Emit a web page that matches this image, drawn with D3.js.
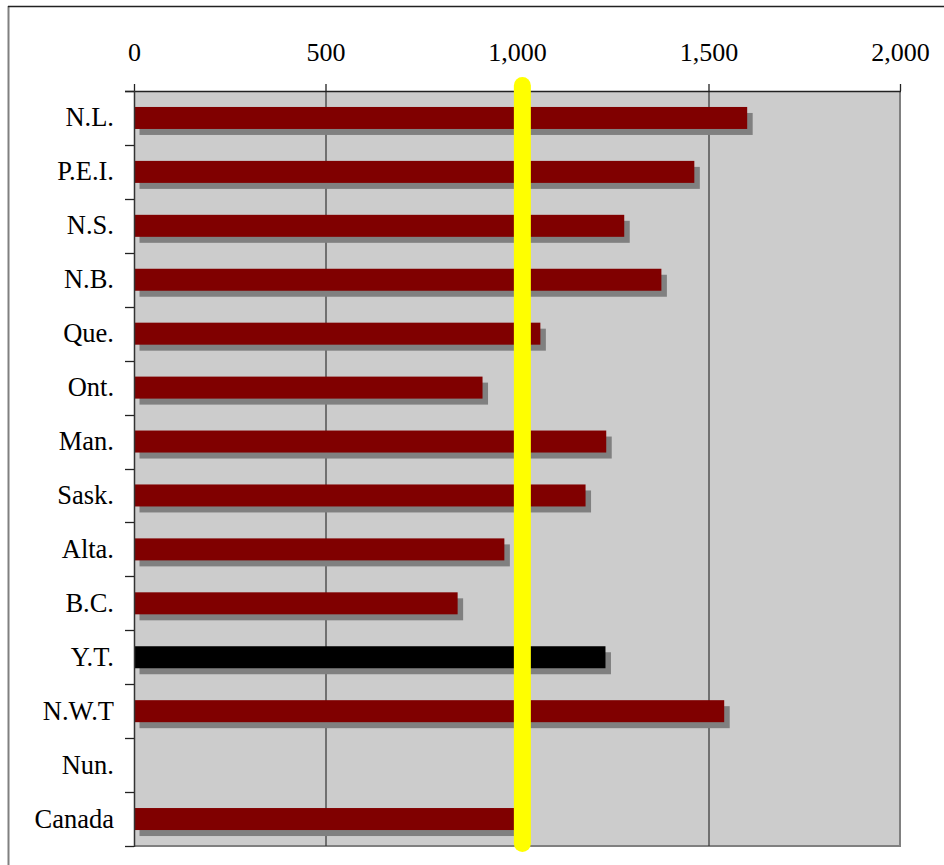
<!DOCTYPE html>
<html>
<head>
<meta charset="utf-8">
<script src="https://cdn.jsdelivr.net/npm/d3@7"></script>
<style>
  html, body { margin: 0; padding: 0; background: #ffffff; }
  svg { display: block; }
  text { font-family: "Liberation Serif", "Times New Roman", serif; fill: #000; }
</style>
</head>
<body>
<script>
// Jurisdictions, top to bottom
const categories = ["N.L.", "P.E.I.", "N.S.", "N.B.", "Que.", "Ont.", "Man.", "Sask.", "Alta.", "B.C.", "Y.T.", "N.W.T", "Nun.", "Canada"];
// Values per jurisdiction (Nun. has no value)
const values = [1601, 1463, 1280, 1377, 1061, 910, 1233, 1179, 967, 845, 1231, 1541, null, 1014];
// Highlighted jurisdiction drawn in black
const highlighted = ["Y.T."];
// Reference line value (national level)
const referenceValue = 1014;
// Axis ticks
const xTicks = [0, 500, 1000, 1500, 2000];

const W = 944, H = 865;
const plot = { left: 134, right: 900, top: 91, bottom: 846 };

const svg = d3.select("body").append("svg")
  .attr("width", W).attr("height", H);

// outer frame
svg.append("line").attr("x1", 8.5).attr("x2", 8.5).attr("y1", 6).attr("y2", H)
  .attr("stroke", "#808080").attr("stroke-width", 2);
svg.append("line").attr("x1", 8).attr("x2", W).attr("y1", 6.5).attr("y2", 6.5)
  .attr("stroke", "#222").attr("stroke-width", 1.3);

const x = d3.scaleLinear().domain([0, 2000]).range([plot.left, plot.right]);
const y = d3.scaleBand().domain(categories).range([plot.top, plot.bottom]).padding(0);
const barH = y.bandwidth() * 0.408;

// plot background
svg.append("rect")
  .attr("x", plot.left).attr("y", plot.top)
  .attr("width", plot.right - plot.left).attr("height", plot.bottom - plot.top)
  .attr("fill", "#cccccc");

// right and bottom plot edge
svg.append("line").attr("x1", plot.right).attr("x2", plot.right)
  .attr("y1", plot.top).attr("y2", plot.bottom + 1)
  .attr("stroke", "#808080").attr("stroke-width", 2);
svg.append("line").attr("x1", plot.left).attr("x2", plot.right + 1)
  .attr("y1", plot.bottom).attr("y2", plot.bottom)
  .attr("stroke", "#808080").attr("stroke-width", 2);

// vertical gridlines
svg.append("g").selectAll("line")
  .data(xTicks.filter(d => d > 0 && d < 2000))
  .join("line")
  .attr("x1", d => x(d) + 0.5).attr("x2", d => x(d) + 0.5)
  .attr("y1", plot.top).attr("y2", plot.bottom)
  .attr("stroke", "#333").attr("stroke-width", 1.2);

const data = categories.map((c, i) => ({ cat: c, value: values[i] })).filter(d => d.value != null);

// bar shadows
svg.append("g").selectAll("rect")
  .data(data)
  .join("rect")
  .attr("x", x(0) + 5.5)
  .attr("y", d => y(d.cat) + (y.bandwidth() - barH) / 2 + 6)
  .attr("width", d => x(d.value) - x(0))
  .attr("height", barH)
  .attr("fill", "#808080");

// bars
svg.append("g").selectAll("rect")
  .data(data)
  .join("rect")
  .attr("x", x(0))
  .attr("y", d => y(d.cat) + (y.bandwidth() - barH) / 2)
  .attr("width", d => x(d.value) - x(0))
  .attr("height", barH)
  .attr("fill", d => highlighted.includes(d.cat) ? "#000000" : "#800000");

// top axis
const xAxis = svg.append("g")
  .attr("transform", `translate(0,${plot.top})`)
  .call(d3.axisTop(x).tickValues(xTicks).tickFormat(d3.format(",")).tickSize(7).tickPadding(23));
xAxis.select(".domain").attr("stroke", "#222").attr("stroke-width", 1.5)
  .attr("d", `M${plot.left - 9},0.5H${plot.right + 1}`);
xAxis.selectAll(".tick line").attr("stroke", "#222").attr("stroke-width", 1.3);
xAxis.selectAll(".tick text").attr("font-size", 26)
  .style("font-family", "'Liberation Serif', 'Times New Roman', serif");

// left axis with labels
const yAxis = svg.append("g")
  .attr("transform", `translate(${plot.left},0)`)
  .call(d3.axisLeft(y).tickSize(0).tickPadding(20));
yAxis.select(".domain").attr("stroke", "#333").attr("stroke-width", 1.5)
  .attr("d", `M0.5,${plot.top}V${plot.bottom + 1}`);
yAxis.selectAll(".tick text").attr("font-size", 26.5)
  .style("font-family", "'Liberation Serif', 'Times New Roman', serif");

// tick marks on category boundaries
const bounds = categories.map(c => y(c)).concat([plot.bottom]);
svg.append("g").selectAll("line")
  .data(bounds)
  .join("line")
  .attr("x1", plot.left - 9).attr("x2", plot.left)
  .attr("y1", d => Math.round(d) + 0.5).attr("y2", d => Math.round(d) + 0.5)
  .attr("stroke", "#222").attr("stroke-width", 1.3);

// reference line
svg.append("line")
  .attr("x1", x(referenceValue)).attr("x2", x(referenceValue))
  .attr("y1", 85.5).attr("y2", 843.5)
  .attr("stroke", "#ffff00").attr("stroke-width", 17)
  .attr("stroke-linecap", "round");
</script>
</body>
</html>
